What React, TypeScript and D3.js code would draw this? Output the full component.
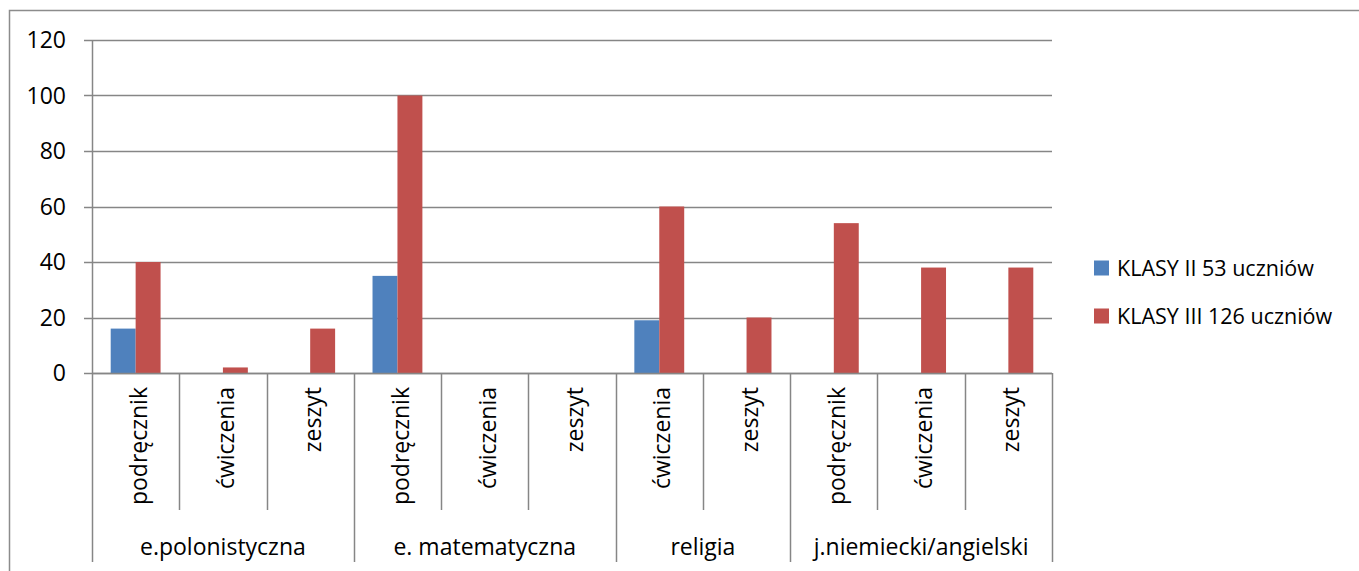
import { useEffect, useRef } from "react";
import * as d3 from "d3";

// --- data ---
const GROUPS = ["e.polonistyczna", "e. matematyczna", "religia", "j.niemiecki/angielski"];
const GROUP_SIZES = [3, 3, 2, 3];
const CATEGORIES = [
  "podręcznik", "ćwiczenia", "zeszyt",
  "podręcznik", "ćwiczenia", "zeszyt",
  "ćwiczenia", "zeszyt",
  "podręcznik", "ćwiczenia", "zeszyt",
];
const SERIES = ["KLASY II 53 uczniów", "KLASY III 126 uczniów"];
const KLASY_II = [16, 0, 0, 35, 0, 0, 19, 0, 0, 0, 0];
const KLASY_III = [40, 2, 16, 100, 0, 0, 60, 20, 54, 38, 38];
const Y_TICKS = [0, 20, 40, 60, 80, 100, 120];
const COLORS = ["#4F81BD", "#C0504D"];

const FONT = "'Open Sans', 'Noto Sans', sans-serif";
const FS = 23;

export default function App() {
  const svgRef = useRef<SVGSVGElement>(null);

  useEffect(() => {
    if (!svgRef.current) return;
    const svg = d3.select(svgRef.current);
    svg.selectAll("*").remove();

    const W = 1359, H = 571;
    const left = 92, right = 1052, top = 40, bottom = 373;
    const gridColor = "#868686";

    // outer chart border (runs off the right/bottom edge)
    svg.append("rect")
      .attr("x", 9.5).attr("y", 10.5)
      .attr("width", W + 20).attr("height", H + 20)
      .attr("fill", "white").attr("stroke", "#8c8c8c").attr("stroke-width", 1.5);

    const keys = CATEGORIES.map((_, i) => String(i));
    const x = d3.scaleBand().domain(keys).range([left, right]).paddingInner(0).paddingOuter(0);
    const xs = d3.scaleBand().domain(SERIES).range([0, x.bandwidth()]).paddingInner(0).paddingOuter(0.75);
    const y = d3.scaleLinear().domain([0, 120]).range([bottom, top]);

    // gridlines + y ticks
    const grid = svg.append("g");
    Y_TICKS.forEach((t) => {
      grid.append("line")
        .attr("x1", left - 8).attr("x2", right)
        .attr("y1", Math.round(y(t)) + 0.5).attr("y2", Math.round(y(t)) + 0.5)
        .attr("stroke", gridColor).attr("stroke-width", 1.5);
      grid.append("text")
        .attr("x", 66).attr("y", y(t))
        .attr("dy", "0.35em")
        .attr("text-anchor", "end")
        .attr("font-family", FONT).attr("font-size", FS).attr("fill", "#000")
        .text(t);
    });

    // y axis line
    svg.append("line")
      .attr("x1", left + 0.5).attr("x2", left + 0.5)
      .attr("y1", top).attr("y2", bottom)
      .attr("stroke", gridColor).attr("stroke-width", 1.5);

    // bars
    const rows = CATEGORIES.map((c, i) => ({ key: String(i), vals: [KLASY_II[i], KLASY_III[i]] }));
    const barG = svg.append("g");
    rows.forEach((r) => {
      r.vals.forEach((v, si) => {
        if (v <= 0) return;
        barG.append("rect")
          .attr("x", (x(r.key) ?? 0) + (xs(SERIES[si]) ?? 0))
          .attr("y", y(v))
          .attr("width", xs.bandwidth())
          .attr("height", y(0) - y(v))
          .attr("fill", COLORS[si]);
      });
    });

    // category axis line
    svg.append("line")
      .attr("x1", left).attr("x2", right)
      .attr("y1", bottom + 0.5).attr("y2", bottom + 0.5)
      .attr("stroke", gridColor).attr("stroke-width", 1.5);

    // category separators: inner ticks and group boundaries
    const groupStarts = [0];
    GROUP_SIZES.forEach((s, i) => groupStarts.push(groupStarts[i] + s));
    for (let i = 0; i <= CATEGORIES.length; i++) {
      const xx = i < CATEGORIES.length ? (x(String(i)) ?? 0) : right;
      const isGroup = groupStarts.includes(i);
      svg.append("line")
        .attr("x1", Math.round(xx) + 0.5).attr("x2", Math.round(xx) + 0.5)
        .attr("y1", bottom).attr("y2", isGroup ? 562 : 510)
        .attr("stroke", gridColor).attr("stroke-width", 1.5);
    }

    // category labels (rotated)
    CATEGORIES.forEach((c, i) => {
      const cx = (x(String(i)) ?? 0) + x.bandwidth() / 2 + 3;
      svg.append("text")
        .attr("transform", `translate(${cx},387) rotate(-90)`)
        .attr("dy", "0.35em")
        .attr("text-anchor", "end")
        .attr("font-family", FONT).attr("font-size", FS).attr("fill", "#000")
        .text(c);
    });

    // group labels
    GROUPS.forEach((g, gi) => {
      const x0 = x(String(groupStarts[gi])) ?? 0;
      const endIdx = groupStarts[gi + 1];
      const x1 = endIdx < CATEGORIES.length ? (x(String(endIdx)) ?? 0) : right;
      svg.append("text")
        .attr("x", (x0 + x1) / 2).attr("y", 547)
        .attr("dy", "0.35em")
        .attr("text-anchor", "middle")
        .attr("font-family", FONT).attr("font-size", FS).attr("fill", "#000")
        .text(g);
    });

    // legend
    const legendY = [268, 316];
    SERIES.forEach((s, i) => {
      svg.append("rect")
        .attr("x", 1094).attr("y", legendY[i] - 7.5)
        .attr("width", 15).attr("height", 15)
        .attr("fill", COLORS[i]);
      svg.append("text")
        .attr("x", 1117).attr("y", legendY[i])
        .attr("dy", "0.35em")
        .attr("font-family", FONT).attr("font-size", 21.5).attr("fill", "#000")
        .text(s);
    });
  }, []);

  return (
    <div style={{ position: "absolute", left: 0, top: 0, background: "white" }}>
      <svg ref={svgRef} width={1359} height={571} style={{ display: "block" }} />
    </div>
  );
}
